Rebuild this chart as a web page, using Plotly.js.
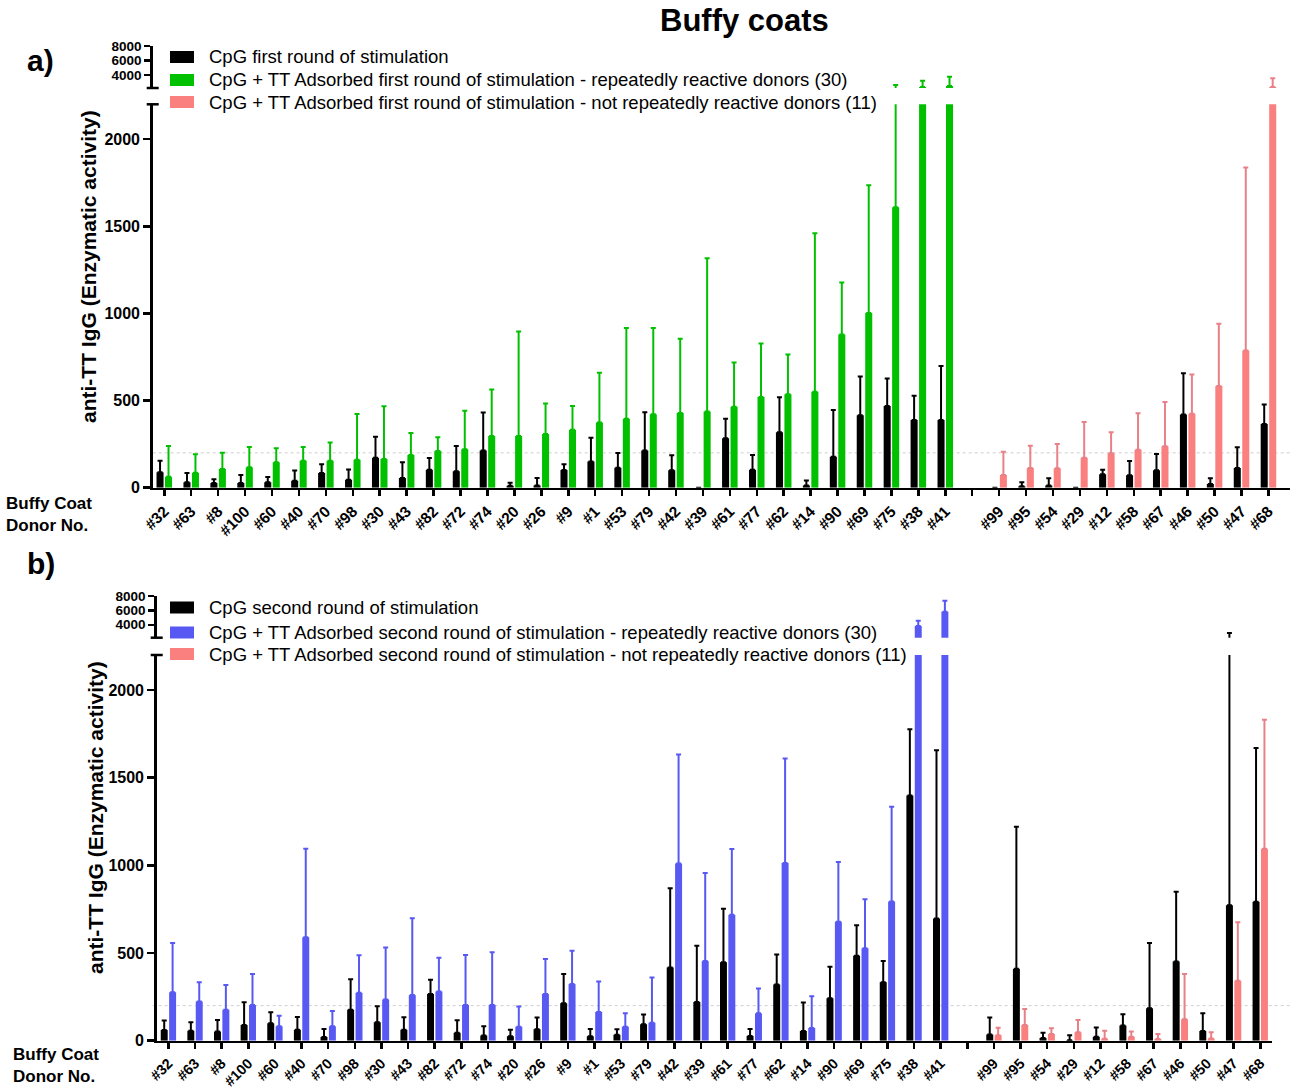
<!DOCTYPE html>
<html>
<head>
<meta charset="utf-8">
<script src="https://cdn.plot.ly/plotly-3.0.1.min.js"></script>
<style>html,body{margin:0;padding:0;background:#fff;}</style>
</head>
<body>
<div id="chart" style="width:1294px;height:1088px;"></div>
<script>
// ---- Donors (x-axis order) ----
const donorsReactive = ['#32','#63','#8','#100','#60','#40','#70','#98','#30','#43','#82','#72','#74','#20','#26',
                        '#9','#1','#53','#79','#42','#39','#61','#77','#62','#14','#90','#69','#75','#38','#41'];
const donorsNonReactive = ['#99','#95','#54','#29','#12','#58','#67','#46','#50','#47','#68'];

// ---- a) first round of stimulation: mean and SD ----
const cpg1Reactive      = [88,31,27,27,31,40,84,46,172,56,103,94,213,11,13,102,151,115,213,100,0,284,103,318,13,178,416,469,389,389];
const cpg1ReactiveSD    = [67,53,21,46,30,58,50,59,121,90,67,145,218,18,43,32,136,84,220,86,0,111,85,201,29,268,222,157,138,310];
const cpg1NonReactive   = [0,8,13,0,77,71,100,420,21,113,366];
const cpg1NonReactiveSD = [0,23,41,0,26,82,93,237,33,119,111];
const tt1Reactive       = [63,86,107,117,146,155,155,161,165,188,211,220,297,297,308,333,374,395,421,429,437,464,521,536,550,879,1002,1609,2340,2480];
const tt1ReactiveSD     = [176,106,94,117,80,79,104,262,302,126,78,221,266,600,175,136,285,521,495,425,879,254,307,228,910,299,734,991,860,1280];
const tt1NonReactive    = [73,113,111,172,197,218,238,425,584,787,2340];
const tt1NonReactiveSD  = [134,128,140,205,121,209,254,224,357,1050,1200];

// ---- b) second round of stimulation: mean and SD ----
const cpg2Reactive      = [61,57,53,90,99,63,21,177,105,63,267,46,29,25,65,214,25,34,94,418,221,448,27,321,55,242,485,334,1398,697];
const cpg2ReactiveSD    = [54,48,65,129,63,72,46,174,92,71,80,70,53,38,67,166,42,31,55,452,321,304,40,171,163,180,173,120,378,959];
const cpg2NonReactive   = [36,410,15,3,23,86,185,452,55,773,792];
const cpg2NonReactiveSD = [96,811,31,28,53,65,372,397,101,2077,878];
const tt2Reactive       = [277,223,176,204,82,590,82,273,235,260,281,204,204,80,267,323,164,80,103,1011,454,718,156,1013,73,679,527,794,3827,5816];
const tt2ReactiveSD     = [280,111,141,176,61,505,88,214,297,438,192,285,300,115,199,190,174,76,258,622,502,376,142,597,181,340,280,541,737,1530];
const tt2NonReactive    = [31,90,38,48,11,23,10,122,13,342,1095];
const tt2NonReactiveSD  = [43,91,33,70,46,29,28,258,35,334,735];

// ---- Axis settings ----
const lowerTicks = [0,500,1000,1500,2000];
const upperTicks = [4000,6000,8000];
const AXIS_BREAK = 2200;
const AXIS_MAX = 8000;
const THRESHOLD = 200;

const legendA = ['CpG first round of stimulation',
  'CpG + TT Adsorbed first round of stimulation - repeatedly reactive donors (30)',
  'CpG + TT Adsorbed first round of stimulation - not repeatedly reactive donors (11)'];
const legendB = ['CpG second round of stimulation',
  'CpG + TT Adsorbed second round of stimulation - repeatedly reactive donors (30)',
  'CpG + TT Adsorbed second round of stimulation - not repeatedly reactive donors (11)'];

// ---- Colours ----
const BLACK = '#000000';
const GREEN = '#00C000';
const BLUE  = '#5858F2';
const PINK  = '#FA8080';
const PINK_ERR = '#E88088';

// ---- Page geometry (pixel -> paper) ----
const W = 1294, H = 1088;
const px = x => x / W;
const py = y => 1 - y / H;
const FONT = 'Liberation Sans, Arial, sans-serif';

// x positions: reactive donors, one empty slot, then non-reactive donors
const xReactive = donorsReactive.map((_, i) => i);
const gapSlot = donorsReactive.length;
const xNonReactive = donorsNonReactive.map((_, i) => gapSlot + 1 + i);
const tickVals = [...xReactive, gapSlot, ...xNonReactive];
const tickText = [...donorsReactive, '', ...donorsNonReactive];

function barTrace(x, y, sd, color, errColor, xa, ya, group) {
  return {
    type: 'bar', x: x, y: y, xaxis: xa, yaxis: ya,
    offsetgroup: group, showlegend: false, hoverinfo: 'skip',
    marker: {color: color, line: {width: 0}},
    error_y: {type: 'data', symmetric: false, array: sd, arrayminus: sd.map(() => 0),
              color: errColor, thickness: 2, width: 2.5}
  };
}

function panelTraces(xa, yLow, yUp, cpgR, cpgRSD, cpgN, cpgNSD, ttR, ttRSD, ttN, ttNSD, ttColor, ttErr) {
  const out = [];
  [yLow, yUp].forEach(ya => {
    out.push(barTrace([...xReactive, ...xNonReactive], [...cpgR, ...cpgN], [...cpgRSD, ...cpgNSD], BLACK, BLACK, xa, ya, 'cpg'));
    out.push(barTrace(xReactive, ttR, ttRSD, ttColor, ttErr, xa, ya, 'tt'));
    out.push(barTrace(xNonReactive, ttN, ttNSD, PINK, PINK_ERR, xa, ya, 'tt'));
  });
  return out;
}

const data = [
  ...panelTraces('x', 'y', 'y2', cpg1Reactive, cpg1ReactiveSD, cpg1NonReactive, cpg1NonReactiveSD,
                 tt1Reactive, tt1ReactiveSD, tt1NonReactive, tt1NonReactiveSD, GREEN, GREEN),
  ...panelTraces('x2', 'y3', 'y4', cpg2Reactive, cpg2ReactiveSD, cpg2NonReactive, cpg2NonReactiveSD,
                 tt2Reactive, tt2ReactiveSD, tt2NonReactive, tt2NonReactiveSD, BLUE, BLUE)
];

const axisLine = {showline: true, linecolor: '#000', linewidth: 2.5, ticks: 'outside', ticklen: 7,
                  tickwidth: 2.5, tickcolor: '#000', showgrid: false, zeroline: false, fixedrange: true};

function xAxis(domain, range, anchor, size) {
  return Object.assign({}, axisLine, {
    domain: domain, range: range, anchor: anchor, tickmode: 'array',
    tickvals: tickVals, ticktext: tickText, tickangle: -45, ticklen: 6,
    tickfont: {family: FONT, size: size, color: '#000', weight: 'bold'}
  });
}
function yLower(domain, anchor) {
  return Object.assign({}, axisLine, {
    domain: domain, range: [0, AXIS_BREAK], anchor: anchor, tickmode: 'array', tickvals: lowerTicks,
    tickfont: {family: FONT, size: 16, color: '#000', weight: 'bold'}
  });
}
function yUpper(domain, anchor) {
  return Object.assign({}, axisLine, {
    domain: domain, range: [AXIS_BREAK, AXIS_MAX], anchor: anchor, tickmode: 'array', tickvals: upperTicks,
    ticklen: 6, tickfont: {family: FONT, size: 13.5, color: '#000', weight: 'bold'}
  });
}

// panel frames (pixels)
const A = {x0: 152.7, x1: 1290, low0: 487.7, low1: 104.3, up0: 88, up1: 46, xr: [-0.43, 41.8]};
const B = {x0: 156.7, x1: 1271.7, low0: 1040.7, low1: 655, up0: 637.7, up1: 596, xr: [-0.44, 41.43]};

const shapes = [];
const annotations = [];

function decorate(P, yref, legendTexts, ttColor, legendRows, labelY, yTitle, panelLetter) {
  // threshold line
  shapes.push({type: 'line', xref: 'x domain', x0: 0, x1: 1,
               yref: yref, y0: THRESHOLD, y1: THRESHOLD, layer: 'below',
               line: {color: '#cfcfcf', width: 1, dash: 'dot'}});
  // axis break caps
  [P.up0, P.low1].forEach(yy => shapes.push({type: 'line', xref: 'paper', yref: 'paper',
      x0: px(P.x0 - 6), x1: px(P.x0 + 6), y0: py(yy), y1: py(yy), line: {color: '#000', width: 2.5}}));
  // legend
  const colors = [BLACK, ttColor, PINK];
  legendRows.forEach((r, i) => {
    shapes.push({type: 'rect', xref: 'paper', yref: 'paper', x0: px(170), x1: px(194),
                 y0: py(r + 6), y1: py(r - 6), fillcolor: colors[i], line: {width: 0}});
    annotations.push({xref: 'paper', yref: 'paper', x: px(207), y: py(r), xanchor: 'left', yanchor: 'middle',
                      showarrow: false, text: legendTexts[i], font: {family: FONT, size: 18.5, color: '#000'}});
  });
  annotations.push({xref: 'paper', yref: 'paper', x: px(yTitle.x), y: py(yTitle.y), textangle: -90,
                    xanchor: 'center', yanchor: 'middle', showarrow: false,
                    text: 'anti-TT IgG (Enzymatic activity)', font: {family: FONT, size: 21, color: '#000', weight: 'bold'}});
  annotations.push({xref: 'paper', yref: 'paper', x: px(labelY.x), y: py(labelY.y), xanchor: 'left', yanchor: 'middle',
                    align: 'left', showarrow: false, text: 'Buffy Coat<br>Donor No.',
                    font: {family: FONT, size: 17, color: '#000', weight: 'bold'}});
  annotations.push({xref: 'paper', yref: 'paper', x: px(panelLetter.x), y: py(panelLetter.y), xanchor: 'left', yanchor: 'middle',
                    showarrow: false, text: panelLetter.t, font: {family: FONT, size: 30, color: '#000', weight: 'bold'}});
}

decorate(A, 'y', legendA, GREEN, [57, 80, 102], {x: 4, y: 514}, {x: 89, y: 267}, {x: 25, y: 60, t: 'a)'});
decorate(B, 'y3', legendB, BLUE, [607.5, 632.5, 654], {x: 11, y: 1065}, {x: 95, y: 818}, {x: 25, y: 563, t: 'b)'});

annotations.push({xref: 'paper', yref: 'paper', x: px(745), y: py(21), xanchor: 'center', yanchor: 'middle',
                  showarrow: false, text: 'Buffy coats', font: {family: FONT, size: 31, color: '#000', weight: 'bold'}});

const layout = {
  width: W, height: H, margin: {l: 0, r: 0, t: 0, b: 0},
  paper_bgcolor: '#fff', plot_bgcolor: 'rgba(0,0,0,0)',
  barmode: 'group', bargap: 0.37, bargroupgap: 0.17, showlegend: false,
  font: {family: FONT, color: '#000'},
  xaxis: xAxis([px(A.x0), px(A.x1)], A.xr, 'y', 15.5),
  yaxis: yLower([py(A.low0), py(A.low1)], 'x'),
  yaxis2: yUpper([py(A.up0), py(A.up1)], 'x'),
  xaxis2: xAxis([px(B.x0), px(B.x1)], B.xr, 'y3', 14.5),
  yaxis3: yLower([py(B.low0), py(B.low1)], 'x2'),
  yaxis4: yUpper([py(B.up0), py(B.up1)], 'x2'),
  shapes: shapes, annotations: annotations
};

Plotly.newPlot('chart', data, layout, {displayModeBar: false, staticPlot: true});
</script>
</body>
</html>
